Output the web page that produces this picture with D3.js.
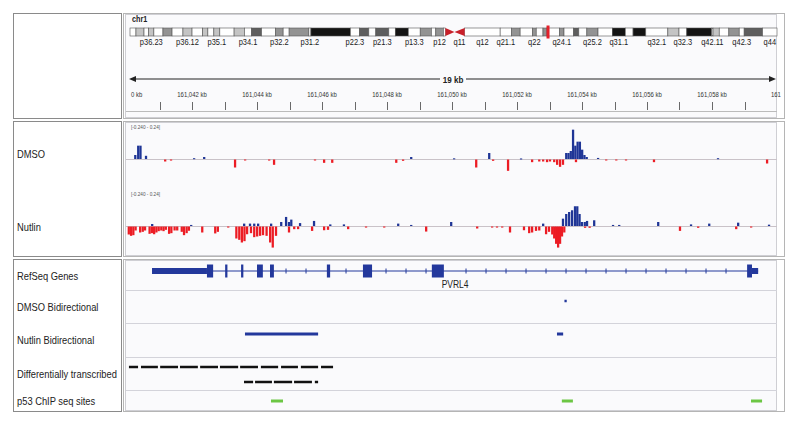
<!DOCTYPE html>
<html><head><meta charset="utf-8">
<script src="https://cdn.jsdelivr.net/npm/d3@7"></script>
<style>body{margin:0;background:#fff;} svg{display:block;font-family:"Liberation Sans",Arial,sans-serif;}</style>
</head><body><svg id="c" width="800" height="425"></svg>
<script>
// ---------------- DATA ----------------
const chromName = "chr1";
const chromLengthMb = 249.25;
// [name, startMb, endMb, stain]
const cytoBands = [
 ["p36.33",0,2.3,"gneg"],["p36.32",2.3,5.4,"gpos25"],["p36.31",5.4,7.2,"gneg"],["p36.23",7.2,9.2,"gpos25"],
 ["p36.22",9.2,12.7,"gneg"],["p36.21",12.7,16.2,"gpos50"],["p36.13",16.2,20.4,"gneg"],["p36.12",20.4,23.9,"gpos25"],
 ["p36.11",23.9,28.0,"gneg"],["p35.3",28.0,30.0,"gpos25"],["p35.2",30.0,32.3,"gneg"],["p35.1",32.3,34.6,"gpos25"],
 ["p34.3",34.6,40.1,"gneg"],["p34.2",40.1,44.1,"gpos25"],["p34.1",44.1,46.8,"gneg"],["p33",46.8,50.7,"gpos75"],
 ["p32.3",50.7,56.1,"gneg"],["p32.2",56.1,59.0,"gpos50"],["p32.1",59.0,61.3,"gneg"],["p31.3",61.3,68.9,"gpos50"],
 ["p31.2",68.9,69.7,"gneg"],["p31.1",69.7,84.9,"gpos100"],["p22.3",84.9,88.4,"gneg"],["p22.2",88.4,92.0,"gpos75"],
 ["p22.1",92.0,94.7,"gneg"],["p21.3",94.7,99.7,"gpos75"],["p21.2",99.7,102.2,"gneg"],["p21.1",102.2,107.2,"gpos100"],
 ["p13.3",107.2,111.8,"gneg"],["p13.2",111.8,116.1,"gpos50"],["p13.1",116.1,117.8,"gneg"],["p12",117.8,120.7,"gpos50"],
 ["p11.2",120.7,121.5,"gneg"],["p11.1",121.5,125.0,"acen"],["q11",125.0,128.9,"acen"],["q12",128.9,142.6,"gvar"],
 ["q21.1",142.6,147.0,"gneg"],["q21.2",147.0,150.3,"gpos50"],["q21.3",150.3,155.0,"gneg"],["q22",155.0,156.5,"gpos50"],
 ["q23.1",156.5,159.1,"gneg"],["q23.2",159.1,160.5,"gpos50"],["q23.3",160.5,165.5,"gneg"],["q24.1",165.5,167.2,"gpos50"],
 ["q24.2",167.2,170.9,"gneg"],["q24.3",170.9,172.9,"gpos75"],["q25.1",172.9,176.0,"gneg"],["q25.2",176.0,180.3,"gpos50"],
 ["q25.3",180.3,185.8,"gneg"],["q31.1",185.8,190.8,"gpos100"],["q31.2",190.8,193.8,"gneg"],["q31.3",193.8,198.7,"gpos100"],
 ["q32.1",198.7,207.2,"gneg"],["q32.2",207.2,211.5,"gpos25"],["q32.3",211.5,214.5,"gneg"],["q41",214.5,224.1,"gpos100"],
 ["q42.11",224.1,224.6,"gneg"],["q42.12",224.6,227.0,"gpos25"],["q42.13",227.0,230.7,"gneg"],["q42.2",230.7,234.7,"gpos50"],
 ["q42.3",234.7,236.6,"gneg"],["q43",236.6,243.7,"gpos75"],["q44",243.7,249.25,"gneg"]
];
const cytoLabels = ["p36.23","p36.12","p35.1","p34.1","p32.2","p31.2","p22.3","p21.3","p13.3","p12","q11","q12",
 "q21.1","q22","q24.1","q25.2","q31.1","q32.1","q32.3","q42.11","q42.3","q44"];

const regionKb = [161040, 161060];
const spanLabel = "19 kb";
const majorTicks = [161040,161042,161044,161046,161048,161050,161052,161054,161056,161058,161060];
const majorTickLabels = ["0 kb","161,042 kb","161,044 kb","161,046 kb","161,048 kb","161,050 kb","161,052 kb","161,054 kb","161,056 kb","161,058 kb","161"];
const minorTicks = [161041,161043,161045,161047,161049,161051,161053,161055,161057,161059];

const dataRange = [-0.24, 0.24];
const dataRangeLabel = "[-0.240 - 0.24]";
const binKb = 0.07;

// [position kb, value]
const dmsoPlus = [
 [161040.22,0.03],[161040.31,0.10],[161040.38,0.10],[161040.55,0.024],[161042.03,0.006],[161042.34,0.015],
 [161048.71,0.015],[161050.03,0.005],[161051.11,0.045],[161052.09,0.004],
 [161053.48,0.045],[161053.55,0.045],[161053.62,0.06],[161053.69,0.22],[161053.76,0.10],[161053.83,0.13],
 [161053.90,0.13],[161053.97,0.07],[161054.04,0.03],[161054.11,0.015],[161054.46,0.008],[161058.15,0.006]
];
const dmsoMinus = [
 [161041.14,-0.015],[161041.32,-0.008],[161043.29,-0.06],[161043.60,-0.005],[161044.34,-0.008],[161044.49,-0.04],
 [161045.75,-0.005],[161046.03,-0.025],[161046.28,-0.025],[161048.25,-0.025],[161048.46,-0.01],
 [161050.71,-0.06],[161051.23,-0.01],[161051.69,-0.085],[161052.43,-0.02],[161052.65,-0.015],[161052.77,-0.015],
 [161052.89,-0.02],[161052.98,-0.015],[161053.11,-0.02],[161053.20,-0.04],[161053.29,-0.055],[161053.38,-0.04],
 [161053.78,-0.02],[161054.71,-0.006],[161055.02,-0.006],[161055.32,-0.006],[161056.18,-0.02],[161059.66,-0.03]
];
const nutlinPlus = [
 [161040.74,0.015],[161041.94,0.008],[161043.57,0.018],[161043.75,0.018],[161043.88,0.018],[161044.00,0.018],
 [161044.40,0.018],[161044.71,0.03],[161044.86,0.068],[161044.95,0.03],[161045.02,0.048],[161045.29,0.022],
 [161045.72,0.038],[161046.22,0.012],[161046.64,0.012],[161048.31,0.018],[161048.71,0.008],[161049.94,0.03],
 [161052.77,0.018],[161053.38,0.055],[161053.48,0.09],[161053.57,0.105],[161053.66,0.118],[161053.75,0.148],
 [161053.82,0.148],[161053.89,0.09],[161053.96,0.03],[161054.05,0.03],[161054.12,0.038],[161054.34,0.043],
 [161054.92,0.008],[161055.11,0.008],[161056.31,0.03],[161057.32,0.012],
 [161057.88,0.018],[161058.77,0.025],[161059.72,0.01]
];
const nutlinMinus = [
 [161040.02,-0.06],[161040.09,-0.07],[161040.16,-0.065],[161040.23,-0.03],[161040.37,-0.045],[161040.45,-0.04],
 [161040.52,-0.03],[161040.66,-0.055],[161040.73,-0.05],[161040.80,-0.058],[161040.87,-0.045],[161040.94,-0.035],
 [161041.02,-0.03],[161041.09,-0.035],[161041.16,-0.025],[161041.26,-0.055],[161041.33,-0.05],[161041.43,-0.03],
 [161041.51,-0.03],[161041.65,-0.04],[161041.72,-0.065],[161041.80,-0.05],[161041.87,-0.032],
 [161042.28,-0.045],[161042.68,-0.052],[161042.76,-0.04],[161043.08,-0.008],
 [161043.33,-0.09],[161043.42,-0.10],[161043.50,-0.12],[161043.58,-0.11],[161043.66,-0.058],[161043.78,-0.05],
 [161043.88,-0.08],[161043.97,-0.075],[161044.06,-0.07],[161044.15,-0.065],[161044.26,-0.07],
 [161044.37,-0.12],[161044.45,-0.158],[161044.55,-0.07],[161044.95,-0.045],[161045.11,-0.02],[161045.23,-0.02],
 [161045.66,-0.033],[161046.03,-0.028],[161046.15,-0.025],[161046.77,-0.02],[161047.32,-0.008],[161047.88,-0.008],
 [161049.17,-0.038],[161050.74,-0.015],[161051.20,-0.008],[161051.35,-0.008],[161051.51,-0.008],
 [161051.75,-0.045],[161052.18,-0.028],[161052.34,-0.05],[161052.43,-0.045],[161052.55,-0.033],[161052.65,-0.03],
 [161052.86,-0.058],[161052.95,-0.04],[161053.05,-0.06],[161053.11,-0.09],[161053.17,-0.13],[161053.23,-0.158],
 [161053.29,-0.13],[161053.35,-0.075],[161053.42,-0.045],[161054.06,-0.01],[161054.20,-0.01],
 [161056.98,-0.033],[161057.54,-0.01],[161058.71,-0.02],[161059.17,-0.008]
];

// RefSeq gene PVRL4
const geneName = "PVRL4";
const geneSpan = [161040.77, 161059.42];
const geneUTRs = [[161040.77,161042.46],[161059.23,161059.42]];
const geneExons = [[161042.46,161042.65],[161043.02,161043.09],[161043.51,161043.58],[161044.00,161044.18],
 [161044.40,161044.52],[161046.15,161046.25],[161047.26,161047.54],[161049.38,161049.75],[161059.08,161059.23]];

const dmsoBidir = [[161053.46,161053.53]];
const nutlinBidir = [[161043.63,161045.88],[161053.23,161053.42]];
const diffRow1 = [[161040.06,161040.34],[161040.43,161040.95],[161041.02,161041.57],[161041.63,161042.18],
 [161042.25,161042.80],[161042.86,161043.42],[161043.48,161044.03],[161044.12,161044.65],[161044.74,161045.26],
 [161045.35,161045.88],[161045.97,161046.34]];
const diffRow2 = [[161043.60,161043.88],[161043.94,161044.46],[161044.52,161045.08],[161045.14,161045.69],[161045.78,161045.88]];
const p53Sites = [[161044.43,161044.80],[161053.38,161053.72],[161059.20,161059.54]];

const trackNames = ["RefSeq Genes","DMSO Bidirectional","Nutlin Bidirectional","Differentially transcribed","p53 ChIP seq sites"];

// ---------------- DRAW ----------------
const svg = d3.select("#c");
const SX = 0.85; // horizontal text compression of the screenshot
function txt(g, x, y, s, size, opt={}) {
  return g.append("text").attr("transform", `translate(${x},${y}) scale(${SX},1)`)
    .attr("font-size", size).attr("fill", opt.fill || "#222")
    .attr("font-weight", opt.weight || "normal")
    .attr("text-anchor", opt.anchor || "start").text(s);
}
const NL = 13, NR = 121, DL = 125, DR = 777, OR = 785;
const sections = [[13,118],[121,256],[259,411]];
sections.forEach(([t,b]) => {
  svg.append("rect").attr("x",NL+0.5).attr("y",t+0.5).attr("width",NR-NL).attr("height",b-t)
    .attr("fill","#fff").attr("stroke","#8a8a8a");
  svg.append("rect").attr("x",DL-1.5).attr("y",t+0.5).attr("width",OR-DL+1).attr("height",b-t)
    .attr("fill","#fff").attr("stroke","#b5b5b5");
  svg.append("rect").attr("x",DL+0.5).attr("y",t+1.5).attr("width",DR-DL-1).attr("height",b-t-2)
    .attr("fill","#fafafc").attr("stroke","#cfcfd4");
});

// ideogram
const ideo = d3.scaleLinear().domain([0, chromLengthMb]).range([130, 777]);
const stainColor = {gneg:"#ffffff", gvar:"#ffffff", gpos25:"#c4c4c4", gpos50:"#939393", gpos75:"#5e5e5e", gpos100:"#141414"};
const IT = 28, IB = 36;
txt(svg, 132, 22, chromName, 8.5, {weight:"bold"});
const gI = svg.append("g");
cytoBands.filter(b => b[3] !== "acen").forEach(b => {
  gI.append("rect").attr("x", ideo(b[1])).attr("y", IT).attr("width", ideo(b[2]) - ideo(b[1])).attr("height", IB - IT)
    .attr("fill", stainColor[b[3]]).attr("stroke", "#555").attr("stroke-width", 0.6);
});
cytoBands.filter(b => b[3] === "acen").forEach(b => {
  const x0 = ideo(b[1]), x1 = ideo(b[2]), mid = (IT + IB) / 2;
  const pts = b[0].startsWith("p") ? [[x0,IT],[x1,mid],[x0,IB]] : [[x1,IT],[x0,mid],[x1,IB]];
  gI.append("path").attr("d", d3.line()(pts) + "Z").attr("fill", "#c8202a");
});
cytoBands.filter(b => cytoLabels.includes(b[0])).forEach(b => {
  txt(gI, (ideo(b[1]) + ideo(b[2])) / 2, 45, b[0], 8.8, {anchor:"middle", fill:"#222"});
});
const regMb = regionKb.map(k => k / 1000);
gI.append("rect").attr("x", ideo(regMb[0]) - 1.5).attr("y", 25.5).attr("width", Math.max(3, ideo(regMb[1]) - ideo(regMb[0])))
  .attr("height", 13).attr("fill", "#e4202a");

// ruler
const x = d3.scaleLinear().domain(regionKb).range([127, 777]);
const gR = svg.append("g");
const ry = 79;
gR.append("line").attr("x1", x.range()[0] + 4).attr("x2", 440).attr("y1", ry).attr("y2", ry).attr("stroke", "#222").attr("stroke-width", 1);
gR.append("line").attr("x1", 466).attr("x2", x.range()[1] - 4).attr("y1", ry).attr("y2", ry).attr("stroke", "#222").attr("stroke-width", 1);
gR.append("path").attr("d", `M${x.range()[0]+2},${ry} l7,-3 v6 Z`).attr("fill", "#222");
gR.append("path").attr("d", `M${x.range()[1]-1},${ry} l-7,-3 v6 Z`).attr("fill", "#222");
txt(gR, 453, ry + 3.5, spanLabel, 9.5, {anchor:"middle", weight:"bold"});
minorTicks.concat(majorTicks.slice(1, -1)).forEach(k => {
  gR.append("line").attr("x1", Math.round(x(k)) + 0.5).attr("x2", Math.round(x(k)) + 0.5).attr("y1", 102).attr("y2", 110)
    .attr("stroke", "#444").attr("stroke-width", 0.8);
});
majorTicks.forEach((k, i) => {
  let px = x(k), anchor = "middle";
  if (i === 0) { px = 131; anchor = "start"; }
  if (i === majorTicks.length - 1) { px = 771; anchor = "start"; }
  txt(gR, px, 97, majorTickLabels[i], 7, {anchor, fill:"#333"});
});
gR.append("line").attr("x1", 126).attr("x2", 777).attr("y1", 111.5).attr("y2", 111.5).attr("stroke", "#bbb");

// coverage tracks
svg.append("defs").append("clipPath").attr("id","clipM").append("rect").attr("x",126).attr("y",122).attr("width",651).attr("height",133);
function coverage(base, plus, minus, label, labelY) {
  const y = d3.scaleLinear().domain(dataRange).range([base + 32, base - 32]);
  const g = svg.append("g").attr("clip-path", "url(#clipM)");
  g.append("line").attr("x1", 126).attr("x2", 777).attr("y1", base + 0.5).attr("y2", base + 0.5).attr("stroke", "#c9c2c8").attr("stroke-width", 1);
  const w = d => Math.max(1.6, x(d[0] + binKb) - x(d[0]));
  g.selectAll(null).data(plus.filter(d => d[1] > 0)).join("rect")
    .attr("x", d => x(d[0])).attr("width", w).attr("y", d => y(d[1])).attr("height", d => Math.max(1, y(0) - y(d[1])))
    .attr("fill", "#1f3596");
  g.selectAll(null).data(minus.filter(d => d[1] < 0)).join("rect")
    .attr("x", d => x(d[0])).attr("width", w).attr("y", y(0) + 0.5).attr("height", d => Math.max(1, y(d[1]) - y(0)))
    .attr("fill", "#ec1c24");
  txt(svg, 131, base - 30, dataRangeLabel, 5.5, {fill:"#555"});
  txt(svg, 17, labelY, label, 11);
}
coverage(159, dmsoPlus, dmsoMinus, "DMSO", 158);
coverage(226, nutlinPlus, nutlinMinus, "Nutlin", 231);

// feature tracks
const gF = svg.append("g");
[290, 323, 357, 390].forEach(yy => gF.append("line").attr("x1", 126).attr("x2", 777).attr("y1", yy + 0.5).attr("y2", yy + 0.5).attr("stroke", "#d3d3da"));
[280, 311, 344, 378, 405].forEach((yy, i) => txt(svg, 17, yy, trackNames[i], 11));

const geneColor = "#23389c", gy = 271;
gF.append("line").attr("x1", x(geneSpan[0])).attr("x2", x(geneSpan[1])).attr("y1", gy).attr("y2", gy).attr("stroke", geneColor).attr("stroke-width", 1);
// strand markers along introns
const step = 20;
for (let px = x(geneSpan[0]) + 14; px < x(geneSpan[1]) - 4; px += step) {
  const kb = x.invert(px);
  if (geneExons.concat(geneUTRs).some(e => kb > e[0] - 0.1 && kb < e[1] + 0.1)) continue;
  gF.append("line").attr("x1", px).attr("x2", px).attr("y1", gy - 2.5).attr("y2", gy + 2.5).attr("stroke", geneColor).attr("stroke-width", 1);
}
gF.selectAll(null).data(geneUTRs).join("rect").attr("x", d => x(d[0])).attr("width", d => x(d[1]) - x(d[0]))
  .attr("y", gy - 3).attr("height", 6).attr("fill", geneColor);
gF.selectAll(null).data(geneExons).join("rect").attr("x", d => x(d[0])).attr("width", d => Math.max(1.5, x(d[1]) - x(d[0])))
  .attr("y", gy - 6.5).attr("height", 13).attr("fill", geneColor);
txt(gF, (x(geneSpan[0]) + x(geneSpan[1])) / 2, 288, geneName, 10, {anchor:"middle", fill:"#222"});

function features(data, yc, h, color, minW) {
  gF.selectAll(null).data(data).join("rect").attr("x", d => x(d[0])).attr("width", d => Math.max(minW, x(d[1]) - x(d[0])))
    .attr("y", yc - h / 2).attr("height", h).attr("fill", color);
}
features(dmsoBidir, 301, 2.5, "#23389c", 2);
features(nutlinBidir, 334, 3, "#23389c", 2);
features(diffRow1, 367, 2.5, "#111", 1);
features(diffRow2, 382, 2.5, "#111", 1);
features(p53Sites, 401, 3, "#6cc644", 1);
</script></body></html>
